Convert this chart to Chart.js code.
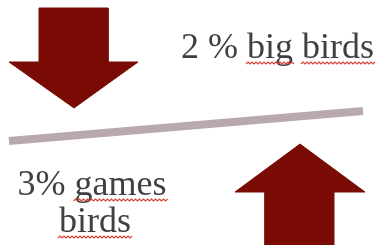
<!DOCTYPE html>
<html>
<head>
<meta charset="utf-8">
<script src="https://cdn.jsdelivr.net/npm/chart.js@4"></script>
<style>
  html, body { margin: 0; padding: 0; background: #fff; }
  #wrap { width: 387px; height: 245px; position: relative; }
</style>
</head>
<body>
<div id="wrap"><canvas id="miGrafica"></canvas></div>
<script>
// valores (unidades del eje, y hacia abajo)
const flechaAbajoX = [39, 108, 108, 138, 74, 9, 39, 39];
const flechaAbajoY = [8, 8, 62, 62, 108, 62, 62, 8];
const flechaArribaX = [265, 334, 334, 365, 300, 235, 265, 265];
const flechaArribaY = [245, 245, 192, 192, 144, 192, 192, 245];
const lineaX = [9, 363];
const lineaY = [141, 111];

// textos
const textos = ['2 % big birds', '3% games', 'birds'];
const textoX = [181, 92, 95];
const textoY = [58, 195, 232];
const textoAlign = ['left', 'center', 'center'];
// palabras subrayadas (ondulado rojo) por cada texto
const subrayadas = [['big', 'birds'], ['games'], ['birds']];

const puntos = (xs, ys) => xs.map((x, i) => ({ x: x, y: ys[i] }));

const textoPlugin = {
    id: 'textos',
    afterDatasetsDraw(chart) {
        const { ctx, scales } = chart;
        ctx.save();
        ctx.font = '36px "Liberation Serif", serif';
        ctx.textBaseline = 'alphabetic';
        textos.forEach((t, i) => {
            const px = scales.x.getPixelForValue(textoX[i]);
            const py = scales.y.getPixelForValue(textoY[i]);
            const w = ctx.measureText(t).width;
            const left = textoAlign[i] === 'center' ? px - w / 2 : px;
            ctx.fillStyle = '#404040';
            ctx.textAlign = 'left';
            ctx.fillText(t, left, py);
            // subrayado tipo corrector
            subrayadas[i].forEach(p => {
                const idx = t.lastIndexOf(p);
                const x0 = left + ctx.measureText(t.slice(0, idx)).width - 1;
                const x1 = x0 + ctx.measureText(p).width + 3;
                ctx.beginPath();
                ctx.strokeStyle = '#d8433a';
                ctx.lineWidth = 1.2;
                let up = true;
                ctx.moveTo(x0, py + 6);
                for (let x = x0 + 2; x <= x1; x += 2) {
                    ctx.lineTo(x, py + (up ? 4 : 6));
                    up = !up;
                }
                ctx.stroke();
            });
        });
        ctx.restore();
    }
};

const ctx = document.getElementById('miGrafica').getContext('2d');
const chart = new Chart(ctx, {
    type: 'scatter',
    data: {
        datasets: [
            {
                data: puntos(lineaX, lineaY),
                showLine: true,
                borderColor: '#b9a9ac',
                borderWidth: 8,
                borderCapStyle: 'butt',
                pointRadius: 0
            },
            {
                data: puntos(flechaAbajoX, flechaAbajoY),
                showLine: true,
                fill: 'shape',
                borderColor: '#7a0b04',
                backgroundColor: '#7a0b04',
                borderWidth: 1,
                pointRadius: 0,
                tension: 0
            },
            {
                data: puntos(flechaArribaX, flechaArribaY),
                showLine: true,
                fill: 'shape',
                borderColor: '#7a0b04',
                backgroundColor: '#7a0b04',
                borderWidth: 1,
                pointRadius: 0,
                tension: 0
            }
        ]
    },
    options: {
        responsive: true,
        maintainAspectRatio: false,
        animation: false,
        layout: { padding: 0 },
        plugins: { legend: { display: false }, tooltip: { enabled: false } },
        scales: {
            x: { display: false, min: 0, max: 387 },
            y: { display: false, min: 0, max: 245, reverse: true }
        }
    },
    plugins: [textoPlugin]
});
</script>
</body>
</html>
